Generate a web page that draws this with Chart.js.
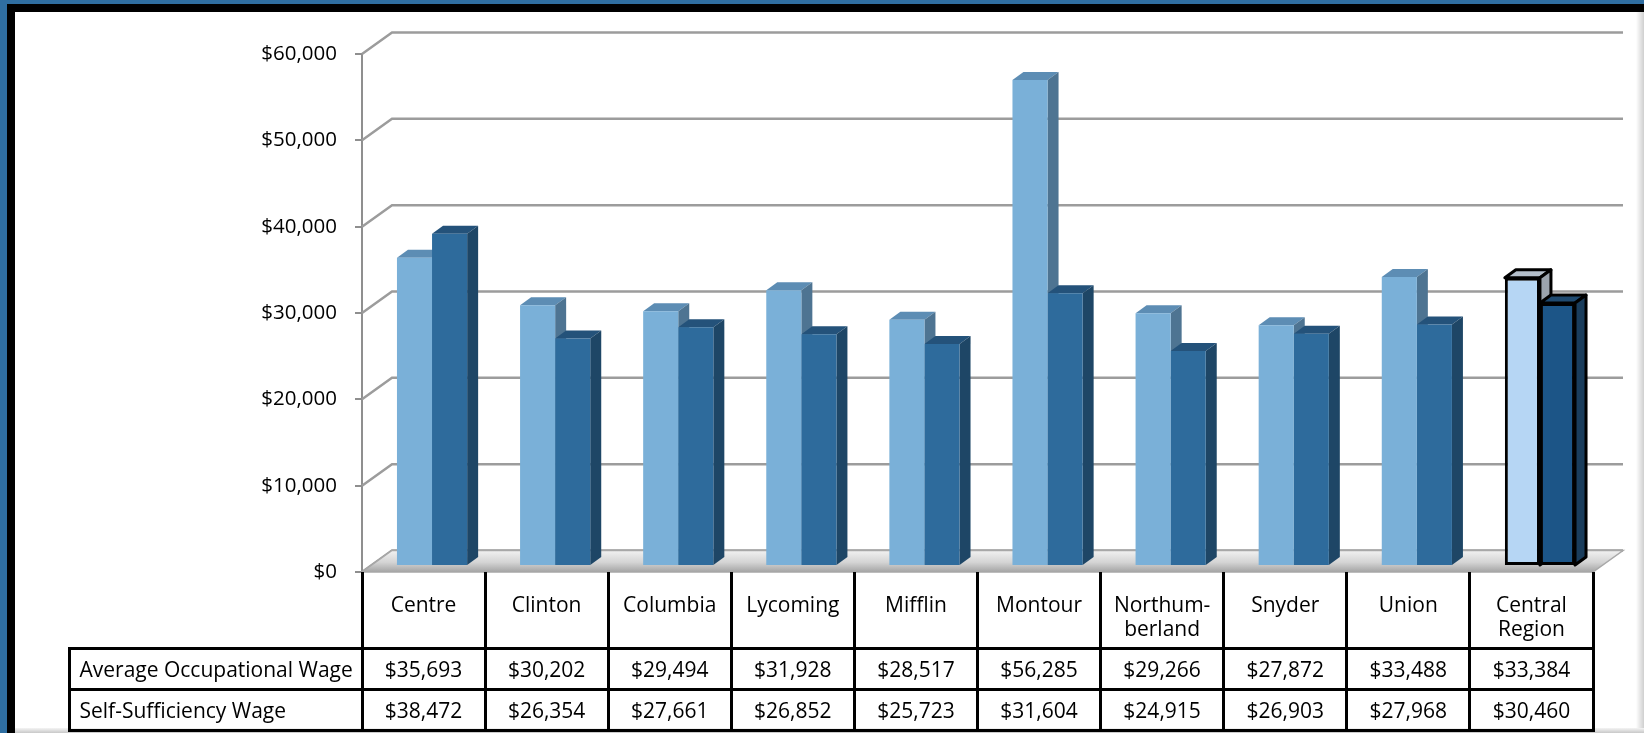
<!DOCTYPE html>
<html>
<head>
<meta charset="utf-8">
<script src="https://cdn.jsdelivr.net/npm/chart.js@4.4.1/dist/chart.umd.min.js"></script>
<style>
  html, body { margin: 0; padding: 0; }
  body { width: 1644px; height: 733px; background: #2f6ea1; position: relative; overflow: hidden; font-family: "Open Sans", sans-serif; }
  #painel { position: absolute; left: 7px; top: 4px; right: 0; bottom: 0; background: #fff; border-left: 8px solid #000; border-top: 8px solid #000; }
  #sombraD { position: absolute; left: 1636px; top: 12px; width: 8px; bottom: 0; background: linear-gradient(to right, #fff, #cfcfcf); }
  #sombraB { position: absolute; left: 15px; right: 0; top: 728px; height: 5px; background: linear-gradient(to bottom, #f4f4f4, #c8c8c8); }
  #grafico { position: absolute; left: 0; top: 0; }
  #tabela { position: absolute; border-collapse: collapse; table-layout: fixed; font: 21px "Open Sans", sans-serif; color: #000; }
  #tabela td { border: 3px solid #000; text-align: center; padding: 0; white-space: nowrap; overflow: hidden; }
  #tabela tr.cab td { vertical-align: top; padding-top: 20px; line-height: 24px; border-top: none; }
  #tabela tr.cab td.vazio { border: none; }
  #tabela td.rot { text-align: left; padding-left: 9px; }
</style>
</head>
<body>
<div id="painel"></div>
<div id="sombraD"></div>
<div id="sombraB"></div>
<canvas id="grafico" width="1644" height="733"></canvas>
<table id="tabela"></table>
<script>
// Dados do gráfico
var categorias = ['Centre', 'Clinton', 'Columbia', 'Lycoming', 'Mifflin', 'Montour', ['Northum-', 'berland'], 'Snyder', 'Union', ['Central', 'Region']];
var series = ['Average Occupational Wage', 'Self-Sufficiency Wage'];
var salarioMedio = [35693, 30202, 29494, 31928, 28517, 56285, 29266, 27872, 33488, 33384];
var salarioAuto = [38472, 26354, 27661, 26852, 25723, 31604, 24915, 26903, 27968, 30460];
var ticksY = [0, 10000, 20000, 30000, 40000, 50000, 60000];

function dinheiro(v) { return '$' + v.toLocaleString('en-US'); }

var n = categorias.length;
var ultimo = function (a, b) { return categorias.map(function (c, i) { return i === n - 1 ? b : a; }); };

// profundidade da parede do fundo e das barras
var PX = 30, PY = 21.5;
var BX = 8.5, BY = -6;
var DX = 11, DY = 8;

function face(ctx, pts, cor, contorno) {
  ctx.beginPath();
  ctx.moveTo(pts[0][0], pts[0][1]);
  for (var k = 1; k < pts.length; k++) ctx.lineTo(pts[k][0], pts[k][1]);
  ctx.closePath();
  ctx.fillStyle = cor;
  ctx.fill();
  if (contorno) {
    ctx.strokeStyle = '#000';
    ctx.lineWidth = 3;
    ctx.lineJoin = 'round';
    ctx.stroke();
  }
}

var efeito3d = {
  id: 'efeito3d',
  beforeDatasetsDraw: function (chart) {
    var ctx = chart.ctx, a = chart.chartArea, y = chart.scales.y;
    ctx.save();
    // linhas da parede do fundo
    ctx.strokeStyle = '#9c9c9c';
    ctx.lineWidth = 2.5;
    y.ticks.forEach(function (t) {
      var py = y.getPixelForValue(t.value);
      ctx.beginPath();
      ctx.moveTo(a.left, py);
      ctx.lineTo(a.left + PX, py - PY);
      ctx.lineTo(a.right + PX, py - PY);
      ctx.stroke();
    });
    // piso
    var y0 = y.getPixelForValue(0);
    var g = ctx.createLinearGradient(0, y0 - PY, 0, y0);
    g.addColorStop(0, '#f2f2f2');
    g.addColorStop(0.55, '#d4d4d4');
    g.addColorStop(1, '#a4a4a4');
    ctx.beginPath();
    ctx.moveTo(a.left, y0);
    ctx.lineTo(a.right, y0);
    ctx.lineTo(a.right + PX, y0 - PY);
    ctx.lineTo(a.left + PX, y0 - PY);
    ctx.closePath();
    ctx.fillStyle = g;
    ctx.fill();
    ctx.strokeStyle = '#a8a8a8';
    ctx.lineWidth = 1.5;
    ctx.stroke();
    ctx.restore();

    // topo e lateral das barras; a frente é desenhada pelo Chart.js com o mesmo deslocamento
    ctx.save();
    ctx.translate(BX, BY);
    chart.data.datasets.forEach(function (ds, di) {
      chart.getDatasetMeta(di).data.forEach(function (bar, i) {
        var l = bar.x - bar.width / 2, r = bar.x + bar.width / 2, t = bar.y, b = bar.base;
        var cont = ds.borderWidth[i] > 0;
        face(ctx, [[l, t], [r, t], [r + DX, t - DY], [l + DX, t - DY]], ds.corTopo[i], cont);
        face(ctx, [[r, t], [r + DX, t - DY], [r + DX, b - DY], [r, b]], ds.corLado[i], cont);
      });
    });
  },
  afterDatasetsDraw: function (chart) {
    chart.ctx.restore();
  }
};

function gradFrente(c1, c2, normal) {
  return function (context) {
    if (context.dataIndex !== n - 1) return normal;
    var el = context.element;
    if (!el || !isFinite(el.x)) return c1;
    var g = context.chart.ctx.createLinearGradient(el.x - el.width / 2, 0, el.x + el.width / 2, 0);
    g.addColorStop(0, c1);
    g.addColorStop(1, c2);
    return g;
  };
}

var ctx = document.getElementById('grafico').getContext('2d');
var chart = new Chart(ctx, {
  type: 'bar',
  data: {
    labels: categorias,
    datasets: [{
      label: series[0],
      data: salarioMedio,
      backgroundColor: gradFrente('#b6d6f4', '#dce9f6', '#7ab0d8'),
      borderColor: '#000',
      borderWidth: ultimo(0, 3),
      borderSkipped: false,
      corTopo: ultimo('#5d8db4', '#b4bfcb'),
      corLado: ultimo('#4e7492', '#9ba4ae')
    }, {
      label: series[1],
      data: salarioAuto,
      backgroundColor: gradFrente('#1c5587', '#2466a0', '#2e6b9c'),
      borderColor: '#000',
      borderWidth: ultimo(0, 3),
      borderSkipped: false,
      corTopo: ultimo('#24527a', '#1f4a70'),
      corLado: ultimo('#1e4666', '#1a3d5c')
    }]
  },
  options: {
    responsive: false,
    animation: false,
    events: [],
    layout: { padding: { top: 54, right: 51, bottom: 161, left: 0 } },
    plugins: { legend: { display: false }, tooltip: { enabled: false } },
    datasets: { bar: { categoryPercentage: 0.57, barPercentage: 1.0 } },
    scales: {
      x: { display: false },
      y: {
        min: 0,
        max: 60000,
        afterBuildTicks: function (s) { s.ticks = ticksY.map(function (v) { return { value: v }; }); },
        afterFit: function (s) { s.width = 362; },
        ticks: {
          callback: function (v) { return dinheiro(v); },
          color: '#000',
          font: { family: 'Open Sans', size: 20.5 },
          padding: 18
        },
        grid: { drawOnChartArea: false, drawTicks: true, tickLength: 7, color: '#8f8f8f', lineWidth: 2 },
        border: { display: true, color: '#8f8f8f', width: 2 }
      }
    }
  },
  plugins: [efeito3d]
});

// tabela de dados, alinhada com a escala x do gráfico
(function () {
  var a = chart.chartArea;
  var esquerda = 69;
  var colW = (a.right - a.left) / n;
  var tab = document.getElementById('tabela');
  tab.style.left = (esquerda - 1.5) + 'px';
  tab.style.top = a.bottom + 'px';
  var html = '<colgroup><col style="width:' + (a.left - esquerda) + 'px">';
  for (var i = 0; i < n; i++) html += '<col style="width:' + colW + 'px">';
  html += '</colgroup>';
  html += '<tr class="cab" style="height:76px"><td class="vazio"></td>';
  categorias.forEach(function (c) {
    html += '<td>' + (Array.isArray(c) ? c.join('<br>') : c) + '</td>';
  });
  html += '</tr>';
  [salarioMedio, salarioAuto].forEach(function (vals, k) {
    html += '<tr style="height:41px"><td class="rot">' + series[k] + '</td>';
    vals.forEach(function (v) { html += '<td>' + dinheiro(v) + '</td>'; });
    html += '</tr>';
  });
  tab.innerHTML = html;
  tab.style.width = (a.right - esquerda + 3) + 'px';
})();
</script>
</body>
</html>
